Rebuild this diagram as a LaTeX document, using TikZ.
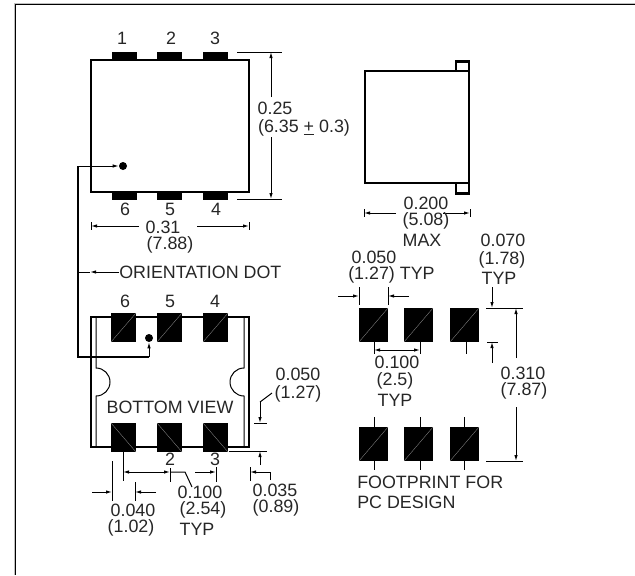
\documentclass[tikz,border=0pt]{standalone}
\usepackage{fontspec}
\setmainfont{Liberation Sans}
\usetikzlibrary{arrows.meta}

\begin{document}
\begin{tikzpicture}[x=0.75pt, y=-0.75pt,
    body/.style={line width=1.7pt},
    thin line/.style={line width=0.75pt},
    dim/.style={line width=0.75pt, -{Latex[length=4.5pt,width=2.6pt]}},
    dimboth/.style={line width=0.75pt, {Latex[length=4.5pt,width=2.6pt]}-{Latex[length=4.5pt,width=2.6pt]}},
    label/.style={inner sep=0pt, text=black!85, font=\fontsize{13.4}{14}\selectfont},
    toppad/.style={fill=black, rectangle, inner sep=0pt, minimum width=18.75pt, minimum height=6pt},
    pad/.style={fill=black, rectangle, inner sep=0pt, minimum width=#1, path picture={
        \draw[black!45, line width=0.25pt] (path picture bounding box.south west) -- (path picture bounding box.north east);}},
    padb/.style={fill=black, rectangle, inner sep=0pt, minimum width=18.75pt, minimum height=21.75pt, path picture={
        \draw[black!45, line width=0.25pt] (path picture bounding box.north west) -- (path picture bounding box.south east);}},
    dot/.style={fill=black, circle, inner sep=0pt, minimum size=6pt},
]

    %--------------------%
    % Page Frame
    %--------------------%
    \useasboundingbox (0,0) rectangle (635,575);
    \draw[black!25, line width=0.75pt] (14,575) -- (14,3) -- (635,3);
    \draw[line width=1.2pt] (15.5,575) -- (15.5,4.5) -- (635,4.5);

    %--------------------%
    % Top View
    %--------------------%
    \draw[body] (91,60) rectangle (249,192);
    \foreach \name/\x in {a/124.5, b/169.5, c/215.5} {
        \node[toppad] (top\name) at (\x,56) {};
        \node[toppad] (low\name) at (\x,195.5) {};
    }
    \node[label] (pin1) at (122,38) {1};
    \node[label] (pin2) at (171,38) {2};
    \node[label] (pin3) at (215,38) {3};
    \node[label] (pin6) at (125,209) {6};
    \node[label] (pin5) at (170,209) {5};
    \node[label] (pin4) at (216,209) {4};
    \node[dot] (topdot) at (123,166) {};

    % Height
    \draw[thin line] (237,52) -- (282,52);
    \draw[thin line] (237,199) -- (282,199);
    \draw[dim] (271,97) -- (271,52);
    \draw[dim] (271,137) -- (271,199);
    \node[label] (height1) at (275,108) {0.25};
    \node[label] (height2) at (304,128) {(6.35 \underline{+} 0.3)};

    % Width
    \draw[dim] (139,226) -- (91,226);
    \draw[dim] (197,226) -- (249,226);
    \draw[thin line] (91,222) -- (91,230);
    \draw[thin line] (249,222) -- (249,230);
    \node[label] (width1) at (163,227) {0.31};
    \node[label] (width2) at (170,245) {(7.88)};

    %--------------------%
    % Side View
    %--------------------%
    \draw[body] (365,71) rectangle (469,183);
    \draw[body] (456,71) -- (456,61.5) -- (469,61.5) -- (469,71);
    \draw[body] (456,183) -- (456,193.5) -- (469,193.5) -- (469,183);

    \draw[dim] (396,213) -- (364,213);
    \draw[dim] (443,213) -- (470,213);
    \draw[thin line] (364,209) -- (364,217);
    \draw[thin line] (470,209) -- (470,217);
    \node[label] (side1) at (426,203) {0.200};
    \node[label] (side2) at (426,221) {(5.08)};
    \node[label] (side3) at (422,240) {MAX};

    %--------------------%
    % Bottom View
    %--------------------%
    \draw[body] (91,317) rectangle (249,447);
    \draw[thin line] (96,317) -- (96,368) arc (-90:90:14) -- (96,447);
    \draw[thin line] (244,317) -- (244,368) arc (270:90:14) -- (244,447);
    \foreach \name/\x in {a/123.5, b/169.5, c/215.5} {
        \node[pad=18.75pt, minimum height=21.75pt] (bot\name) at (\x,327.5) {};
        \node[padb] (end\name) at (\x,437.5) {};
    }
    \node[label] (num6) at (125,301) {6};
    \node[label] (num5) at (170,301) {5};
    \node[label] (num4) at (215,301) {4};
    \node[label] (num2) at (170,459) {2};
    \node[label] (num3) at (215,459) {3};
    \node[label] (bottom) at (170,407) {BOTTOM VIEW};
    \node[dot] (botdot) at (149,338) {};

    %--------------------%
    % Orientation Dot
    %--------------------%
    \coordinate (corner) at (78,166);
    \coordinate (turn) at (78,357);
    \coordinate (under) at (149,357);
    \coordinate (tee) at (78,272);
    \coordinate (teehead) at (90,272);
    \node[label, anchor=west] (orient) at (119,272) {ORIENTATION DOT};
    \draw[dim] (corner) -- (topdot.west);
    \draw[thin line, line width=1pt] (corner) -- (turn) -- (under);
    \draw[dim] (under) -- (botdot.south);
    \draw[dim] (orient.west) -- (teehead);
    \draw[thin line] (teehead) -- (tee);

    %--------------------%
    % Bottom View Dimensions
    %--------------------%
    % Pitch
    \draw[thin line] (123,452) -- (123,481);
    \draw[thin line] (170,468) -- (170,482);
    \draw[thin line] (216,467) -- (216,482);
    \draw[dimboth] (123,472) -- (170,472);
    \draw[thin line] (170,472) -- (185,472) -- (192,487);
    \draw[dim] (195,472) -- (216,472);
    \node[label] (pitch1) at (200,492) {0.100};
    \node[label] (pitch2) at (203,510) {(2.54)};
    \node[label] (pitch3) at (197,529) {TYP};

    % Pad width
    \draw[thin line] (112,461) -- (112,501);
    \draw[thin line] (135,482) -- (135,501);
    \draw[dim] (92,492) -- (112,492);
    \draw[dim] (156,492) -- (135,492);
    \node[label] (padw1) at (133,510) {0.040};
    \node[label] (padw2) at (131,528) {(1.02)};

    % Overhang
    \draw[thin line] (229,451) -- (267,451);
    \draw[dim] (260,465) -- (260,451);
    \draw[thin line] (250,467) -- (250,481);
    \draw[thin line] (270,480) -- (270,472);
    \draw[dim] (270,472) -- (250,472);
    \node[label] (over1) at (275,490) {0.035};
    \node[label] (over2) at (276,508) {(0.89)};

    % Pad height
    \draw[thin line] (254,423) -- (267,423);
    \draw[thin line] (272,393) -- (260,402);
    \draw[dim] (260,402) -- (260,423);
    \node[label] (padh1) at (298,374) {0.050};
    \node[label] (padh2) at (298,394) {(1.27)};

    %--------------------%
    % Footprint
    %--------------------%
    \foreach \name/\x in {a/373.5, b/418.5, c/464.5} {
        \node[pad=21.75pt, minimum height=25.5pt] (rowa\name) at (\x,325) {};
        \node[pad=21.75pt, minimum height=25.5pt] (rowb\name) at (\x,444) {};
    }
    \foreach \x in {374,420,466} {
        \draw[thin line] (\x,342) -- (\x,354);
    }
    \foreach \x in {374,420,464} {
        \draw[thin line] (\x,417) -- (\x,427);
        \draw[thin line] (\x,461) -- (\x,470);
    }

    % Pitch
    \draw[dimboth] (374,350) -- (420,350);
    \node[label] (fpitch1) at (397,362) {0.100};
    \node[label] (fpitch2) at (395,381) {(2.5)};
    \node[label] (fpitch3) at (395,400) {TYP};

    % Pad width
    \draw[thin line] (359,287) -- (359,305);
    \draw[thin line] (388,287) -- (388,305);
    \draw[dim] (338,296) -- (359,296);
    \draw[dim] (409,296) -- (388,296);
    \node[label] (fwidth1) at (374,257) {0.050};
    \node[label, anchor=west] (fwidth2) at (348,275) {(1.27) TYP};

    % Pad height
    \draw[thin line] (487,342) -- (498,342);
    \draw[dim] (492,287) -- (492,308);
    \draw[dim] (492,363) -- (492,342);
    \node[label] (fheight1) at (503,240) {0.070};
    \node[label] (fheight2) at (502,260) {(1.78)};
    \node[label] (fheight3) at (499,278) {TYP};

    % Span
    \draw[thin line] (486,308) -- (523,308);
    \draw[thin line] (486,461) -- (523,461);
    \draw[dim] (516,358) -- (516,308);
    \draw[dim] (516,407) -- (516,461);
    \node[label] (span1) at (523,373) {0.310};
    \node[label] (span2) at (524,391) {(7.87)};

    \node[label, anchor=west] (foot1) at (357,482) {FOOTPRINT FOR};
    \node[label, anchor=west] (foot2) at (357,502) {PC DESIGN};
\end{tikzpicture}
\end{document}
